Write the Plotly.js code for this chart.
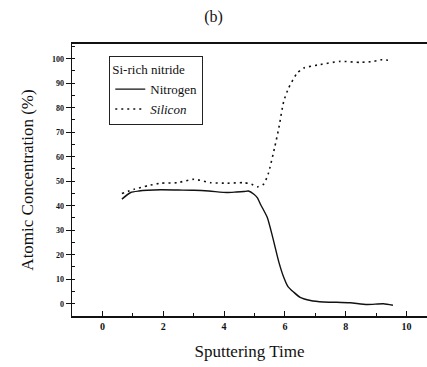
<!DOCTYPE html>
<html>
<head>
<meta charset="utf-8">
<script src="https://cdn.plot.ly/plotly-3.0.1.min.js"></script>
<style>html,body{margin:0;padding:0;background:#fff;}#chart{width:427px;height:367px;}</style>
</head>
<body>
<div id="chart"></div>
<script>
// Sputtering time (x) and atomic concentration (%) values
var nitrogenTime = [0.64, 0.93, 1.2, 1.48, 1.92, 2.5, 3.01, 3.5, 4.1, 4.4, 4.65, 4.8, 4.98, 5.09, 5.2, 5.42, 5.6, 5.8, 5.96, 6.1, 6.29, 6.5, 6.84, 7.27, 7.7, 8.15, 8.7, 9.24, 9.55];
var nitrogenConc = [42.7, 45.4, 46.0, 46.3, 46.5, 46.4, 46.3, 46.0, 45.4, 45.6, 45.8, 46.0, 44.7, 43.3, 40.5, 35.2, 27, 17, 10.8, 7, 4.7, 2.6, 1.3, 0.7, 0.6, 0.4, -0.3, 0.0, -0.6];
var siliconTime = [0.64, 1.04, 1.5, 1.92, 2.46, 3.01, 3.56, 4.1, 4.65, 4.9, 5.09, 5.3, 5.45, 5.66, 5.8, 5.96, 6.12, 6.4, 6.62, 7.16, 7.82, 8.48, 8.9, 9.19, 9.51];
var siliconConc = [45.0, 46.7, 48.2, 49.2, 49.4, 50.8, 49.4, 49.2, 49.4, 48.8, 47.7, 48.8, 53, 63.7, 71.8, 82.6, 88.0, 94.1, 96.2, 97.6, 98.9, 98.5, 98.9, 99.6, 99.2];
var seriesNames = ["Nitrogen", "<i>Silicon</i>"];
var legendTitle = "Si-rich nitride";
var xTickVals = [0, 2, 4, 6, 8, 10];
var yTickVals = [0, 10, 20, 30, 40, 50, 60, 70, 80, 90, 100];

var serif = "'Liberation Serif', 'Times New Roman', serif";

var traces = [
  {x: nitrogenTime, y: nitrogenConc, name: seriesNames[0], mode: "lines",
   line: {color: "#111", width: 1.4, shape: "spline", smoothing: 0.6}},
  {x: siliconTime, y: siliconConc, name: seriesNames[1], mode: "lines",
   line: {color: "#111", width: 1.6, dash: "2px,4px", shape: "spline", smoothing: 0.6}}
];

var layout = {
  width: 427, height: 367,
  margin: {l: 72, r: 0, t: 44, b: 51},
  paper_bgcolor: "#fff", plot_bgcolor: "#fff",
  font: {family: serif, color: "#111"},
  title: {text: "(b)", font: {family: serif, size: 16, color: "#111"},
          xref: "container", x: 0.5, xanchor: "center",
          yref: "container", y: 0.956, yanchor: "middle"},
  showlegend: true,
  legend: {x: 0.105, y: 0.955, xanchor: "left", yanchor: "top",
           bordercolor: "#222", borderwidth: 1, bgcolor: "#fff",
           font: {family: serif, size: 13, color: "#111"},
           title: {text: legendTitle, font: {family: serif, size: 13, color: "#111"}},
           tracegroupgap: 0, itemwidth: 30},
  xaxis: {range: [-1, 10.67], showgrid: false, zeroline: false,
          showline: true, linecolor: "#111", linewidth: 1.8, mirror: true,
          tickvals: xTickVals, ticks: "inside", ticklen: 5, tickcolor: "#111",
          minor: {dtick: 1, tick0: 0, ticks: "inside", ticklen: 3, tickcolor: "#111"},
          tickfont: {family: serif, size: 10, weight: "bold", color: "#111"},
          title: {text: "Sputtering Time", font: {family: serif, size: 17, color: "#111"}, standoff: 14}},
  yaxis: {range: [-5, 106], showgrid: false, zeroline: false,
          showline: true, linecolor: "#111", linewidth: 1.4, mirror: false,
          tickvals: yTickVals, ticks: "outside", ticklen: 5, tickcolor: "#111",
          minor: {dtick: 5, tick0: 0, ticks: "inside", ticklen: 3, tickcolor: "#111"},
          tickfont: {family: serif, size: 8, weight: "bold", color: "#111"},
          title: {text: "Atomic Concentration (%)", font: {family: serif, size: 17, color: "#111"}, standoff: 14}}
};

Plotly.newPlot("chart", traces, layout, {displayModeBar: false, staticPlot: true});
</script>
</body>
</html>
